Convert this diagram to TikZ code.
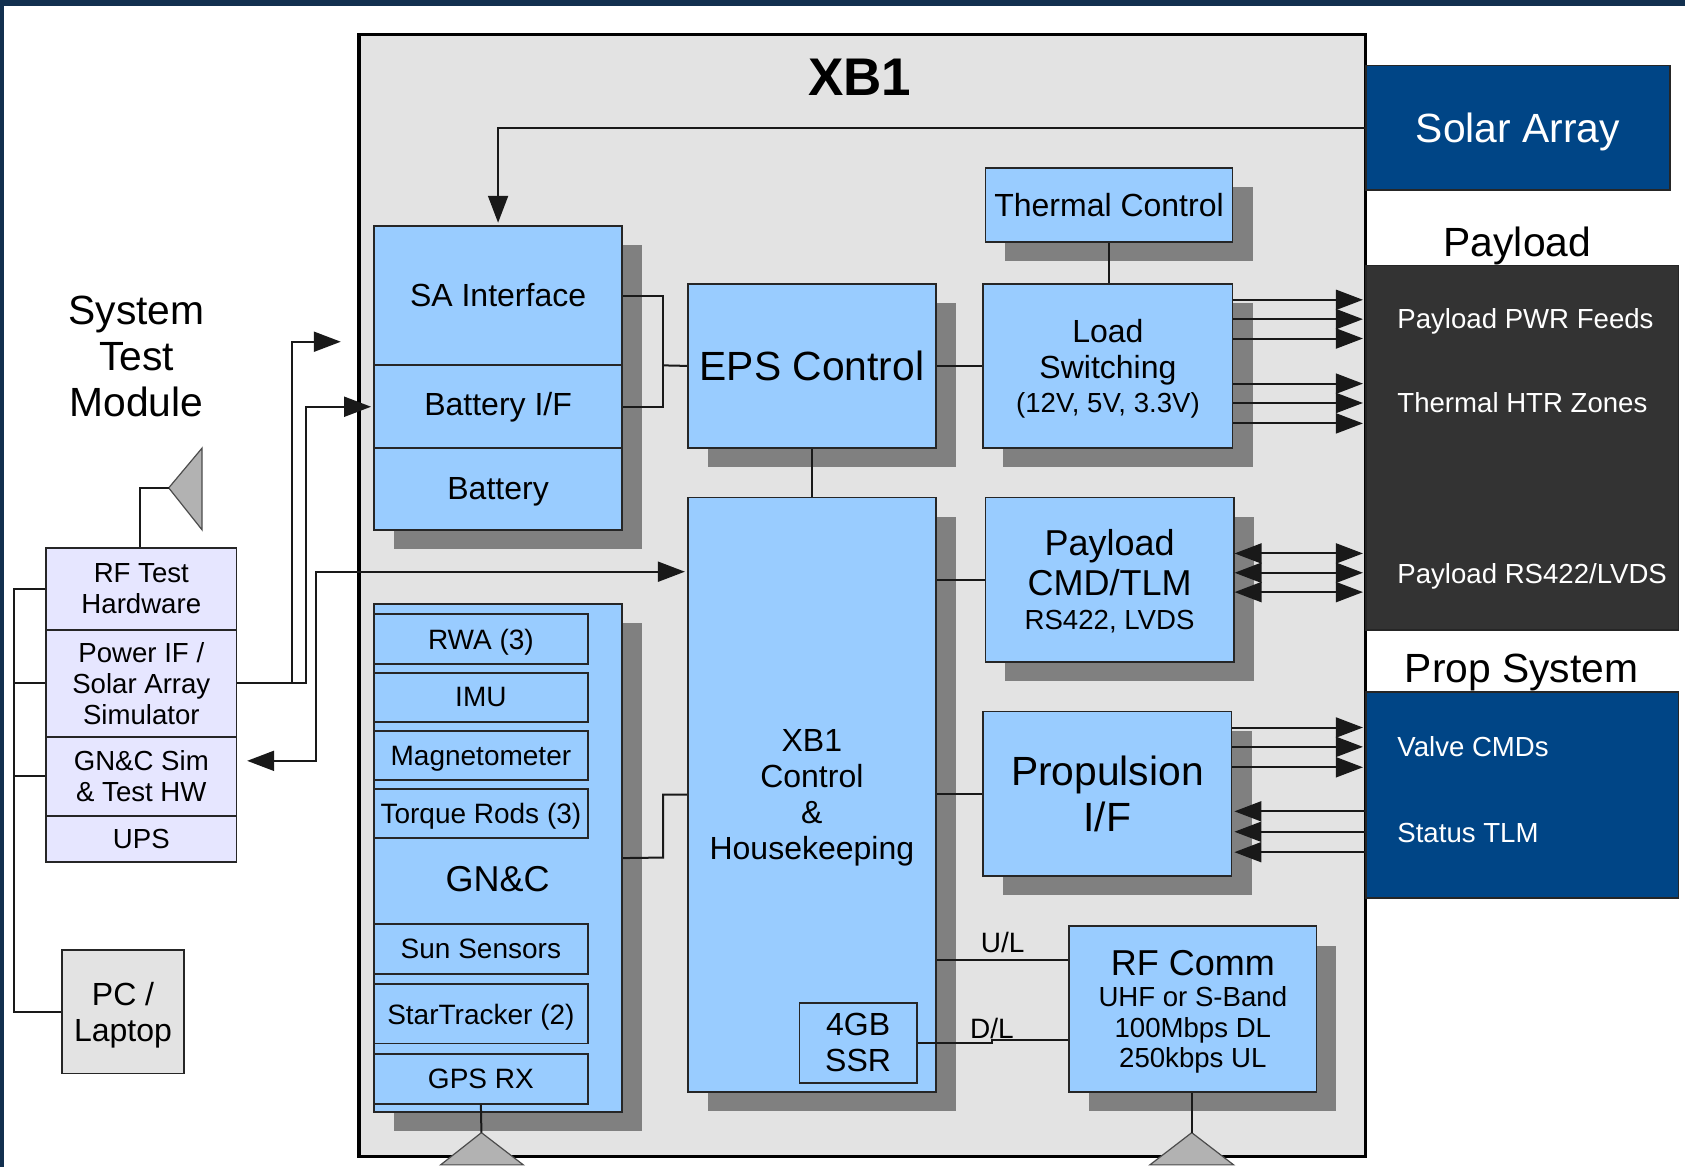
\documentclass[tikz,border=0pt]{standalone}
\usepackage{fontspec}
\setmainfont{Liberation Sans}
\usetikzlibrary{arrows.meta,shadows}
\definecolor{edgenavy}{HTML}{12304F}
\definecolor{boxblue}{HTML}{99CCFF}
\definecolor{deepblue}{HTML}{004586}
\definecolor{darkgrey}{HTML}{333333}
\definecolor{framegrey}{HTML}{E3E3E3}
\definecolor{shadegrey}{HTML}{808080}
\definecolor{antgrey}{HTML}{B2B2B2}
\definecolor{testlav}{HTML}{E6E6FF}
\newcommand{\smallsize}{\fontsize{13.8}{15.4}\selectfont}
\newcommand{\headsize}{\fontsize{18}{20}\selectfont}
\tikzset{
  every node/.append style={inner sep=0pt,align=center},
  wh/.style 2 args={minimum width=#1*0.5373pt,minimum height=#2*0.5373pt},
  boxbase/.style={draw=black!85,line width=0.9pt},
  bluebox/.style={boxbase,fill=boxblue},
  shadowed/.style={drop shadow={shadow xshift=10pt,shadow yshift=-9.6pt,fill=shadegrey,opacity=1}},
  lavbox/.style={boxbase,fill=testlav,font=\fontsize{13.8}{15.4}\selectfont},
  nodepth/.style={text depth=0pt},
  bigtxt/.style={font=\fontsize{20.4}{23}\selectfont},
  headtxt/.style={font=\headsize},
  midtxt/.style={font=\fontsize{16}{18}\selectfont},
  smalltxt/.style={font=\fontsize{14}{16}\selectfont},
  sidetxt/.style={anchor=west,text=white,font=\fontsize{13.8}{16}\selectfont},
  link/.style={draw=black!90,line width=1pt},
  arr/.style={link,-{Triangle[length=13.5pt,width=10pt]},shorten >=1pt},
  arrback/.style={link,{Triangle[length=13.5pt,width=10pt]}-,shorten <=1pt},
  arrboth/.style={link,{Triangle[length=13.5pt,width=10pt]}-{Triangle[length=13.5pt,width=10pt]},shorten >=1pt},
  antenna/.style={draw=black!70,line width=0.6pt,fill=antgrey}
}
\begin{document}
\begin{tikzpicture}[x=0.5373pt,y=0.5373pt]
\useasboundingbox (0,0) rectangle (1568,-1086);
\fill [edgenavy] (0,0) rectangle (1568,-6);
\fill [edgenavy] (0,0) rectangle (4,-1086);
\node [draw=black,line width=1.6pt,fill=framegrey,wh={937}{1044}] (frame) at (802.5,-554) {};
\node [font=\bfseries\fontsize{26.5}{30}\selectfont] (title) at (800,-72) {XB1};

\node [boxbase,fill=deepblue,text=white,bigtxt,nodepth,wh={283}{116}] (solar) at (1412.5,-119) {Solar Array};
\node [bigtxt] (paytitle) at (1412,-229) {Payload};
\node [boxbase,fill=darkgrey,wh={291}{339}] (payload) at (1416.5,-416.5) {};
\node [sidetxt] (payfeeds) at (1300,-299) {Payload PWR Feeds};
\node [sidetxt] (payhtr) at (1300,-375) {Thermal HTR Zones};
\node [sidetxt] (payrs) at (1300,-536) {Payload RS422/LVDS};
\node [bigtxt] (proptitle) at (1416,-626) {Prop System};
\node [boxbase,fill=deepblue,wh={291}{192}] (propsys) at (1416.5,-740) {};
\node [sidetxt] (valves) at (1300,-695) {Valve CMDs};
\node [sidetxt] (status) at (1300,-775) {Status TLM};

\node [bluebox,shadowed,midtxt,wh={230}{69}] (thermal) at (1032,-190.5) {Thermal Control};
\node [bluebox,shadowed,midtxt,nodepth,wh={232}{153}] (load) at (1031,-340.5) {Load\\Switching\\[-1pt]{\smallsize (12V, 5V, 3.3V)}};
\node [bluebox,shadowed,bigtxt,wh={231}{153}] (eps) at (755.5,-340.5) {EPS Control};
\node [bluebox,shadowed,wh={231}{283}] (sastack) at (463.5,-351.5) {};
\node [bluebox,midtxt,wh={231}{130}] (sa) at (463.5,-275) {SA Interface};
\node [bluebox,midtxt,wh={231}{77}] (batif) at (463.5,-378.5) {Battery I/F};
\node [bluebox,midtxt,nodepth,wh={231}{76}] (batt) at (463.5,-455) {Battery};

\node [bluebox,shadowed,wh={231}{473}] (gnc) at (463.5,-798.5) {};
\node [bluebox,smalltxt,nodepth,wh={199}{47}] (rwa) at (447.5,-594.5) {RWA (3)};
\node [bluebox,smalltxt,wh={199}{46}] (imu) at (447.5,-649) {IMU};
\node [bluebox,smalltxt,nodepth,wh={199}{46}] (magneto) at (447.5,-703) {Magnetometer};
\node [bluebox,smalltxt,nodepth,wh={199}{46}] (torque) at (447.5,-757) {Torque Rods (3)};
\node [headtxt] (gnctitle) at (463,-818) {GN\&C};
\node [bluebox,smalltxt,wh={199}{46}] (sun) at (447.5,-883) {Sun Sensors};
\node [bluebox,smalltxt,nodepth,wh={199}{55}] (star) at (447.5,-943.5) {StarTracker (2)};
\node [bluebox,smalltxt,wh={199}{46}] (gps) at (447.5,-1004) {GPS RX};

\node [bluebox,shadowed,midtxt,nodepth,wh={231}{553}] (ctrl) at (755.5,-739.5) {XB1\\Control\\\&\\Housekeeping};
\node [bluebox,midtxt,wh={109}{75}] (ssr) at (798.5,-970.5) {4GB\\SSR};
\node [bluebox,shadowed,headtxt,nodepth,wh={231}{153}] (paycmd) at (1032.5,-539.5) {Payload\\CMD/TLM\\[-3pt]{\smallsize RS422, LVDS}};
\node [bluebox,shadowed,bigtxt,wh={231}{153}] (prop) at (1030.5,-738.5) {Propulsion\\I/F};
\node [bluebox,shadowed,font=\smallsize,nodepth,wh={230}{154}] (rfcomm) at (1110,-939) {{\headsize RF Comm}\\UHF or S-Band\\100Mbps DL\\250kbps UL};
\node [smalltxt] (ullabel) at (933,-877) {U/L};
\node [smalltxt] (dllabel) at (923,-957) {D/L};

\node [bigtxt] (stm) at (127,-332) {System\\Test\\Module};
\node [lavbox,wh={177}{76}] (rftest) at (131.5,-548) {RF Test\\Hardware};
\node [lavbox,wh={177}{100}] (powerif) at (131.5,-636) {Power IF /\\Solar Array\\Simulator};
\node [lavbox,wh={177}{73}] (gncsim) at (131.5,-722.5) {GN\&C Sim\\\& Test HW};
\node [lavbox,wh={177}{43}] (ups) at (131.5,-780.5) {UPS};
\node [boxbase,fill=framegrey,midtxt,nodepth,wh={113}{115}] (laptop) at (114.5,-941.5) {PC /\\Laptop};

\coordinate (bustop) at (13,-548);
\coordinate (busend) at (13,-942);
\coordinate (antapex) at (157,-454);
\coordinate (solarend) at (319,-318);
\coordinate (simend) at (230,-708);
\coordinate (gpsapex) at (448,-1054);
\coordinate (rfapex) at (1109,-1054);

\draw [antenna] (antapex) -- (188,-417) -- (188,-493) -- cycle;
\draw [antenna] (gpsapex) -- (487,-1084) -- (410,-1084) -- cycle;
\draw [antenna] (rfapex) -- (1148,-1084) -- (1070,-1084) -- cycle;
\draw [link] (rftest.north -| 130,0) |- (antapex);
\draw [link] (gps.south) -- (gpsapex);
\draw [link] (rfcomm.south -| rfapex) -- (rfapex);

\draw [link] (rftest.west) -- (bustop) -- (busend) -- (laptop.west |- busend);
\draw [link] (powerif.west) -- (powerif.west -| bustop);
\draw [link] (gncsim.west) -- (gncsim.west -| bustop);
\draw [arr] (powerif.east) -- (272,-636) |- (solarend);
\draw [arr] (powerif.east) -- (285,-636) |- (batif.west);
\draw [arrboth] (simend) -- (294,-708) |- (ctrl.west |- 0,-532);

\draw [arr] (solar.west) -| (sa.north);
\draw [link] (sa.east) -- (617,-275) |- (batif.east);
\draw [link] (617,-340) -- (eps.west);
\draw [link] (eps.east) -- (load.west);
\draw [link] (thermal.south) -- (thermal.south |- load.north);
\draw [link] (eps.south) -- (ctrl.north -| eps.south);
\draw [link] (gnc.east) -- (617,-798) |- (ctrl.west);
\draw [link] (ctrl.east |- paycmd.west) -- (paycmd.west);
\draw [link] (ctrl.east |- prop.west) -- (prop.west);
\draw [link] (ctrl.east |- 0,-893) -- (rfcomm.west |- 0,-893);
\draw [link] (ssr.east) -- (923,-970.5) -- (923,-968) -- (rfcomm.west |- 0,-968);

\draw [arr] (load.east |- 0,-279) -- (payload.west |- 0,-279);
\draw [arr] (load.east |- 0,-297) -- (payload.west |- 0,-297);
\draw [arr] (load.east |- 0,-315) -- (payload.west |- 0,-315);
\draw [arr] (load.east |- 0,-357) -- (payload.west |- 0,-357);
\draw [arr] (load.east |- 0,-375) -- (payload.west |- 0,-375);
\draw [arr] (load.east |- 0,-394) -- (payload.west |- 0,-394);
\draw [arrboth] (paycmd.east |- 0,-515) -- (payload.west |- 0,-515);
\draw [arrboth] (paycmd.east |- 0,-533) -- (payload.west |- 0,-533);
\draw [arrboth] (paycmd.east |- 0,-551) -- (payload.west |- 0,-551);
\draw [arr] (prop.east |- 0,-677) -- (propsys.west |- 0,-677);
\draw [arr] (prop.east |- 0,-695) -- (propsys.west |- 0,-695);
\draw [arr] (prop.east |- 0,-714) -- (propsys.west |- 0,-714);
\draw [arrback] (prop.east |- 0,-755) -- (propsys.west |- 0,-755);
\draw [arrback] (prop.east |- 0,-774) -- (propsys.west |- 0,-774);
\draw [arrback] (prop.east |- 0,-793) -- (propsys.west |- 0,-793);
\end{tikzpicture}
\end{document}
